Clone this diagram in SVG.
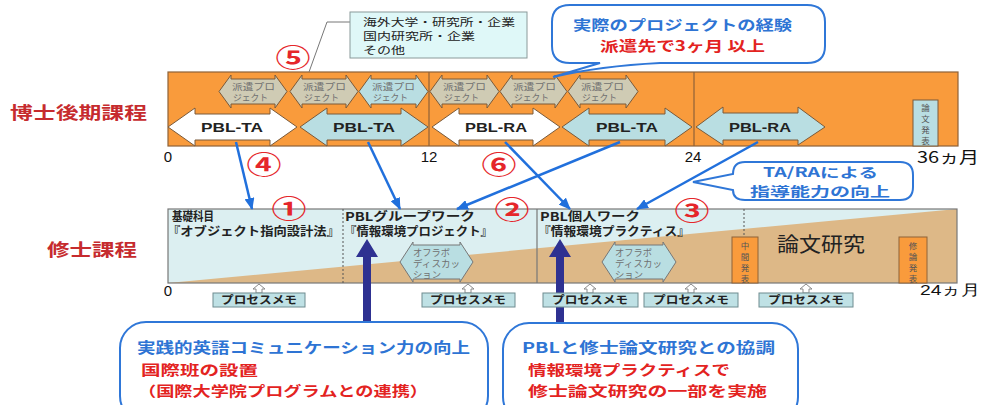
<svg xmlns="http://www.w3.org/2000/svg" width="1000" height="405" viewBox="0 0 1000 405">
<defs>
<style>
.jp{font-family:"Noto Sans CJK JP","Liberation Sans",sans-serif}
.band{fill:#F99B3C;stroke:#8E6238;stroke-width:1.2}
.tan{fill:#CFCBB4;stroke:#7A5A3A;stroke-width:1}
.lb{fill:#B9DEE2;stroke:#7A5A3A;stroke-width:1}
.wh{fill:#FFFFFF;stroke:#7A5A3A;stroke-width:1}
.sm{font-size:9px;fill:#707070}
.pbl{font-family:"Liberation Sans",Arial,sans-serif;font-weight:bold;font-size:13px;fill:#222}
.num{font-family:"Liberation Sans",Arial,sans-serif;font-size:15px;fill:#111}
.lbl{font-size:17px;font-weight:bold;fill:#C62B2E}
.circ{font-size:25px;font-weight:bold;fill:#E5262A}
.blue{fill:#2E74D4;font-weight:bold}
.red{fill:#E3231F;font-weight:bold}
.call{fill:#FFFFFF;stroke:#2F77D8;stroke-width:2}
.conn{stroke:#2170DC;stroke-width:2.5;fill:none;marker-end:url(#ah)}
.memo{fill:#BFE1E5;stroke:#6F8C90;stroke-width:1}
.memot{font-size:11px;font-weight:bold;fill:#222}
.up{fill:#FFFFFF;stroke:#8A8A8A;stroke-width:1}
.vt{font-size:8.5px;fill:#555}
.bt{font-size:12px;font-weight:bold;fill:#222}
.navy{fill:#2E3191}
</style>
<marker id="ah" viewBox="0 0 12 10" refX="11" refY="5" markerWidth="12" markerHeight="10" markerUnits="userSpaceOnUse" orient="auto">
<path d="M0,0 L12,5 L0,10 Z" fill="#2170DC"/>
</marker>
</defs>
<rect width="1000" height="405" fill="#FFFFFF"/>

<g id="label-doctor"><text class="jp lbl" x="10" y="119" textLength="137" lengthAdjust="spacingAndGlyphs">博士後期課程</text></g>
<g id="label-master"><text class="jp lbl" x="47" y="256" textLength="90" lengthAdjust="spacingAndGlyphs">修士課程</text></g>

<g id="doctor-band">
<rect class="band" x="168" y="72" width="790" height="74"/>
<line x1="429" y1="72" x2="429" y2="146" stroke="#8E6238" stroke-width="1.2"/>
<line x1="694" y1="72" x2="694" y2="146" stroke="#8E6238" stroke-width="1.2"/>
</g>

<g id="dispatch-projects" class="jp">
<g id="dp1"><path class="tan" d="M219,91.5 L231,75 L231,79 L275,79 L275,75 L287,91.5 L275,108 L275,104 L231,104 L231,108 Z"/><text class="sm" x="232" y="90" textLength="43" lengthAdjust="spacingAndGlyphs">派遣プロ</text><text class="sm" x="233" y="101" textLength="35" lengthAdjust="spacingAndGlyphs">ジェクト</text></g>
<g id="dp2"><path class="tan" d="M290,91.5 L302,75 L302,79 L346,79 L346,75 L358,91.5 L346,108 L346,104 L302,104 L302,108 Z"/><text class="sm" x="303" y="90" textLength="43" lengthAdjust="spacingAndGlyphs">派遣プロ</text><text class="sm" x="304" y="101" textLength="35" lengthAdjust="spacingAndGlyphs">ジェクト</text></g>
<g id="dp3"><path class="lb" d="M359,91.5 L371,75 L371,79 L416,79 L416,75 L428,91.5 L416,108 L416,104 L371,104 L371,108 Z"/><text class="sm" x="372" y="90" textLength="43" lengthAdjust="spacingAndGlyphs">派遣プロ</text><text class="sm" x="373" y="101" textLength="35" lengthAdjust="spacingAndGlyphs">ジェクト</text></g>
<g id="dp4"><path class="tan" d="M430,91.5 L442,75 L442,79 L487,79 L487,75 L499,91.5 L487,108 L487,104 L442,104 L442,108 Z"/><text class="sm" x="443" y="90" textLength="43" lengthAdjust="spacingAndGlyphs">派遣プロ</text><text class="sm" x="444" y="101" textLength="35" lengthAdjust="spacingAndGlyphs">ジェクト</text></g>
<g id="dp5"><path class="tan" d="M500,91.5 L512,75 L512,79 L555,79 L555,75 L567,91.5 L555,108 L555,104 L512,104 L512,108 Z"/><text class="sm" x="513" y="90" textLength="43" lengthAdjust="spacingAndGlyphs">派遣プロ</text><text class="sm" x="514" y="101" textLength="35" lengthAdjust="spacingAndGlyphs">ジェクト</text></g>
<g id="dp6"><path class="tan" d="M568,91.5 L580,75 L580,79 L626,79 L626,75 L638,91.5 L626,108 L626,104 L580,104 L580,108 Z"/><text class="sm" x="581" y="90" textLength="43" lengthAdjust="spacingAndGlyphs">派遣プロ</text><text class="sm" x="582" y="101" textLength="35" lengthAdjust="spacingAndGlyphs">ジェクト</text></g>
</g>

<g id="pbl-arrows">
<g id="pbl1"><path class="wh" d="M168,127 L195,108 L195,114 L270,114 L270,108 L297,127 L270,146 L270,140 L195,140 L195,146 Z"/><text class="pbl" x="232" y="132" text-anchor="middle" textLength="62" lengthAdjust="spacingAndGlyphs">PBL-TA</text></g>
<g id="pbl2"><path class="lb" d="M300,127 L327,108 L327,114 L401,114 L401,108 L428,127 L401,146 L401,140 L327,140 L327,146 Z"/><text class="pbl" x="364" y="132" text-anchor="middle" textLength="62" lengthAdjust="spacingAndGlyphs">PBL-TA</text></g>
<g id="pbl3"><path class="wh" d="M432,127 L459,108 L459,114 L533,114 L533,108 L560,127 L533,146 L533,140 L459,140 L459,146 Z"/><text class="pbl" x="496" y="132" text-anchor="middle" textLength="62" lengthAdjust="spacingAndGlyphs">PBL-RA</text></g>
<g id="pbl4"><path class="lb" d="M562,127 L589,108 L589,114 L665,114 L665,108 L692,127 L665,146 L665,140 L589,140 L589,146 Z"/><text class="pbl" x="627" y="132" text-anchor="middle" textLength="62" lengthAdjust="spacingAndGlyphs">PBL-TA</text></g>
<g id="pbl5"><path class="lb" d="M696,127 L723,107 L723,113 L798,113 L798,107 L825,127 L798,145 L798,140 L723,140 L723,145 Z"/><text class="pbl" x="760" y="132" text-anchor="middle" textLength="62" lengthAdjust="spacingAndGlyphs">PBL-RA</text></g>
</g>

<g id="thesis-pres-doctor" class="jp">
<rect x="913" y="100" width="25" height="46" fill="#B9DEE2" stroke="#7A5A3A" stroke-width="1"/>
<text class="vt" x="925.5" y="111" text-anchor="middle">論</text>
<text class="vt" x="925.5" y="122" text-anchor="middle">文</text>
<text class="vt" x="925.5" y="133" text-anchor="middle">発</text>
<text class="vt" x="925.5" y="144" text-anchor="middle">表</text>
</g>

<g id="top-scale" class="num">
<text x="168" y="162" text-anchor="middle">0</text>
<text x="429" y="162" text-anchor="middle">12</text>
<text x="693" y="162" text-anchor="middle">24</text>
<text class="jp" x="917" y="163" font-size="16" textLength="62" lengthAdjust="spacingAndGlyphs">36ヵ月</text>
</g>

<g id="master-band">
<rect x="168" y="209" width="789" height="74" fill="#DCEFF1"/>
<path d="M168,283 L957,209 L957,283 Z" fill="#DDB887"/>
<rect x="168" y="209" width="789" height="74" fill="none" stroke="#777" stroke-width="1.2"/>
<line x1="343" y1="209" x2="343" y2="283" stroke="#555" stroke-width="1" stroke-dasharray="2,2"/>
<line x1="537" y1="209" x2="537" y2="283" stroke="#777" stroke-width="1.2"/>
<line x1="744" y1="209" x2="744" y2="237" stroke="#555" stroke-width="1" stroke-dasharray="2,2"/>
</g>

<g id="course-basic" class="jp">
<text class="bt" x="172" y="221" textLength="42" lengthAdjust="spacingAndGlyphs">基礎科目</text>
<text class="bt" x="167" y="236" textLength="173" lengthAdjust="spacingAndGlyphs">『オブジェクト指向設計法』</text>
</g>
<g id="course-group" class="jp">
<text class="bt" x="345" y="221" textLength="130" lengthAdjust="spacingAndGlyphs">PBLグループワーク</text>
<text class="bt" x="344" y="236" textLength="149" lengthAdjust="spacingAndGlyphs">『情報環境プロジェクト』</text>
</g>
<g id="course-individual" class="jp">
<text class="bt" x="540" y="221" textLength="100" lengthAdjust="spacingAndGlyphs">PBL個人ワーク</text>
<text class="bt" x="538" y="236" textLength="152" lengthAdjust="spacingAndGlyphs">『情報環境プラクティス』</text>
</g>
<g id="thesis-research" class="jp"><text x="777" y="252" font-size="20" fill="#222" textLength="88" lengthAdjust="spacingAndGlyphs">論文研究</text></g>

<g id="offlab1" class="jp">
<path d="M400,262 L413,242 L413,245 L460,245 L460,242 L473,262 L460,282 L460,279 L413,279 L413,282 Z" fill="#B9DEE2" stroke="#777" stroke-width="1"/>
<text class="sm" x="413" y="256" textLength="37" lengthAdjust="spacingAndGlyphs">オフラボ</text>
<text class="sm" x="413" y="267" textLength="47" lengthAdjust="spacingAndGlyphs">ディスカッ</text>
<text class="sm" x="413" y="278" textLength="28" lengthAdjust="spacingAndGlyphs">ション</text>
</g>
<g id="offlab2" class="jp">
<path d="M602,262 L615,242 L615,245 L663,245 L663,242 L676,262 L663,282 L663,279 L615,279 L615,282 Z" fill="#B9DEE2" stroke="#777" stroke-width="1"/>
<text class="sm" x="615" y="256" textLength="37" lengthAdjust="spacingAndGlyphs">オフラボ</text>
<text class="sm" x="615" y="267" textLength="47" lengthAdjust="spacingAndGlyphs">ディスカッ</text>
<text class="sm" x="615" y="278" textLength="28" lengthAdjust="spacingAndGlyphs">ション</text>
</g>

<g id="midterm" class="jp">
<rect x="732" y="237" width="26" height="46" fill="#F99B3C" stroke="#8E6238" stroke-width="1"/>
<text class="vt" x="745" y="249" text-anchor="middle">中</text>
<text class="vt" x="745" y="260" text-anchor="middle">間</text>
<text class="vt" x="745" y="271" text-anchor="middle">発</text>
<text class="vt" x="745" y="282" text-anchor="middle">表</text>
</g>
<g id="thesis-pres-master" class="jp">
<rect x="899" y="237" width="28" height="46" fill="#F99B3C" stroke="#8E6238" stroke-width="1"/>
<text class="vt" x="913" y="249" text-anchor="middle">修</text>
<text class="vt" x="913" y="260" text-anchor="middle">論</text>
<text class="vt" x="913" y="271" text-anchor="middle">発</text>
<text class="vt" x="913" y="282" text-anchor="middle">表</text>
</g>

<g id="bottom-scale">
<text class="num" x="168" y="296" text-anchor="middle">0</text>
<text class="num jp" x="920" y="295" font-size="16" textLength="60" lengthAdjust="spacingAndGlyphs">24ヵ月</text>
</g>

<g id="navy-arrows">
<path class="navy" d="M363,323 L363,257 L356,257 L367,239 L378,257 L371,257 L371,323 Z"/>
<path class="navy" d="M556,323 L556,257 L549,257 L560,239 L571,257 L564,257 L564,323 Z"/>
</g>

<g id="process-memos" class="jp">
<g id="memo1"><path class="up" d="M259,284 L265,289 L262,289 L262,293 L256,293 L256,289 L253,289 Z"/><rect class="memo" x="213" y="293" width="92" height="14"/><text class="memot" x="259" y="304" text-anchor="middle" textLength="76" lengthAdjust="spacingAndGlyphs">プロセスメモ</text></g>
<g id="memo2"><path class="up" d="M468,284 L474,289 L471,289 L471,293 L465,293 L465,289 L462,289 Z"/><rect class="memo" x="422" y="293" width="93" height="14"/><text class="memot" x="468" y="304" text-anchor="middle" textLength="76" lengthAdjust="spacingAndGlyphs">プロセスメモ</text></g>
<g id="memo3"><path class="up" d="M590,284 L596,289 L593,289 L593,293 L587,293 L587,289 L584,289 Z"/><rect class="memo" x="543" y="293" width="95" height="14"/><text class="memot" x="590" y="304" text-anchor="middle" textLength="76" lengthAdjust="spacingAndGlyphs">プロセスメモ</text></g>
<g id="memo4"><path class="up" d="M691,284 L697,289 L694,289 L694,293 L688,293 L688,289 L685,289 Z"/><rect class="memo" x="644" y="293" width="94" height="14"/><text class="memot" x="691" y="304" text-anchor="middle" textLength="76" lengthAdjust="spacingAndGlyphs">プロセスメモ</text></g>
<g id="memo5"><path class="up" d="M806,284 L812,289 L809,289 L809,293 L803,293 L803,289 L800,289 Z"/><rect class="memo" x="759" y="293" width="94" height="14"/><text class="memot" x="806" y="304" text-anchor="middle" textLength="76" lengthAdjust="spacingAndGlyphs">プロセスメモ</text></g>
</g>

<g id="connectors">
<line class="conn" x1="236" y1="142" x2="252" y2="209"/>
<line class="conn" x1="368" y1="142" x2="400" y2="209"/>
<line class="conn" x1="505" y1="142" x2="570" y2="209"/>
<line class="conn" x1="620" y1="142" x2="457" y2="209"/>
<line class="conn" x1="758" y1="142" x2="637" y2="209"/>
<polyline points="350,22 327,22 309,72" fill="none" stroke="#777" stroke-width="1"/>
</g>

<g id="dest-box" class="jp">
<rect x="350" y="12" width="177" height="46" fill="#DFF8F8" stroke="#8A9A9A" stroke-width="1"/>
<text x="363" y="26" font-size="10" fill="#222" textLength="152" lengthAdjust="spacingAndGlyphs">海外大学・研究所・企業</text>
<text x="363" y="40" font-size="10" fill="#222" textLength="112" lengthAdjust="spacingAndGlyphs">国内研究所・企業</text>
<text x="363" y="54" font-size="10" fill="#222" textLength="42" lengthAdjust="spacingAndGlyphs">その他</text>
</g>

<g id="callout-experience" class="jp">
<path class="call" d="M570,5 L807,5 Q825,5 825,22 L825,46 Q825,63 807,63 L660,63 Q600,66 553,77 L600,63 L570,63 Q552,63 552,46 L552,22 Q552,5 570,5 Z"/>
<text class="blue" x="573" y="30" font-size="14" textLength="219" lengthAdjust="spacingAndGlyphs">実際のプロジェクトの経験</text>
<text class="red" x="600" y="51" font-size="14" textLength="165" lengthAdjust="spacingAndGlyphs">派遣先で3ヶ月 以上</text>
</g>

<g id="callout-tara" class="jp">
<path class="call" d="M745,162 L900,162 Q913,162 913,175 L913,187 Q913,200 900,200 L745,200 Q733,200 733,190 L693,182 L733,174 Q733,162 745,162 Z"/>
<text class="blue" x="763" y="177" font-size="13" textLength="115" lengthAdjust="spacingAndGlyphs">TA/RAによる</text>
<text class="blue" x="750" y="196" font-size="13" textLength="140" lengthAdjust="spacingAndGlyphs">指導能力の向上</text>
</g>

<g id="callout-english" class="jp">
<rect class="call" x="120" y="322" width="368" height="100" rx="26" ry="26"/>
<text class="blue" x="137" y="353" font-size="14.5" textLength="333" lengthAdjust="spacingAndGlyphs">実践的英語コミュニケーション力の向上</text>
<text class="red" x="141" y="375" font-size="14" textLength="117" lengthAdjust="spacingAndGlyphs">国際班の設置</text>
<text class="red" x="138" y="396" font-size="14" textLength="290" lengthAdjust="spacingAndGlyphs">（国際大学院プログラムとの連携）</text>
</g>

<g id="callout-pbl-thesis" class="jp">
<rect class="call" x="503" y="323" width="295" height="100" rx="26" ry="26"/>
<text class="blue" x="522" y="353" font-size="14.5" textLength="253" lengthAdjust="spacingAndGlyphs">PBLと修士論文研究との協調</text>
<text class="red" x="528" y="375" font-size="14" textLength="202" lengthAdjust="spacingAndGlyphs">情報環境プラクティスで</text>
<text class="red" x="528" y="396" font-size="14" textLength="239" lengthAdjust="spacingAndGlyphs">修士論文研究の一部を実施</text>
</g>

<g id="circled-numbers" class="jp">
<text class="circ" text-anchor="middle" transform="translate(293,67) scale(1.4,1)">⑤</text>
<text class="circ" text-anchor="middle" transform="translate(264,174) scale(1.4,1)">④</text>
<text class="circ" text-anchor="middle" transform="translate(499,174) scale(1.4,1)">⑥</text>
<text class="circ" text-anchor="middle" transform="translate(289,218) scale(1.4,1)">①</text>
<text class="circ" text-anchor="middle" transform="translate(512,219) scale(1.4,1)">②</text>
<text class="circ" text-anchor="middle" transform="translate(692,220) scale(1.4,1)">③</text>
</g>
</svg>
